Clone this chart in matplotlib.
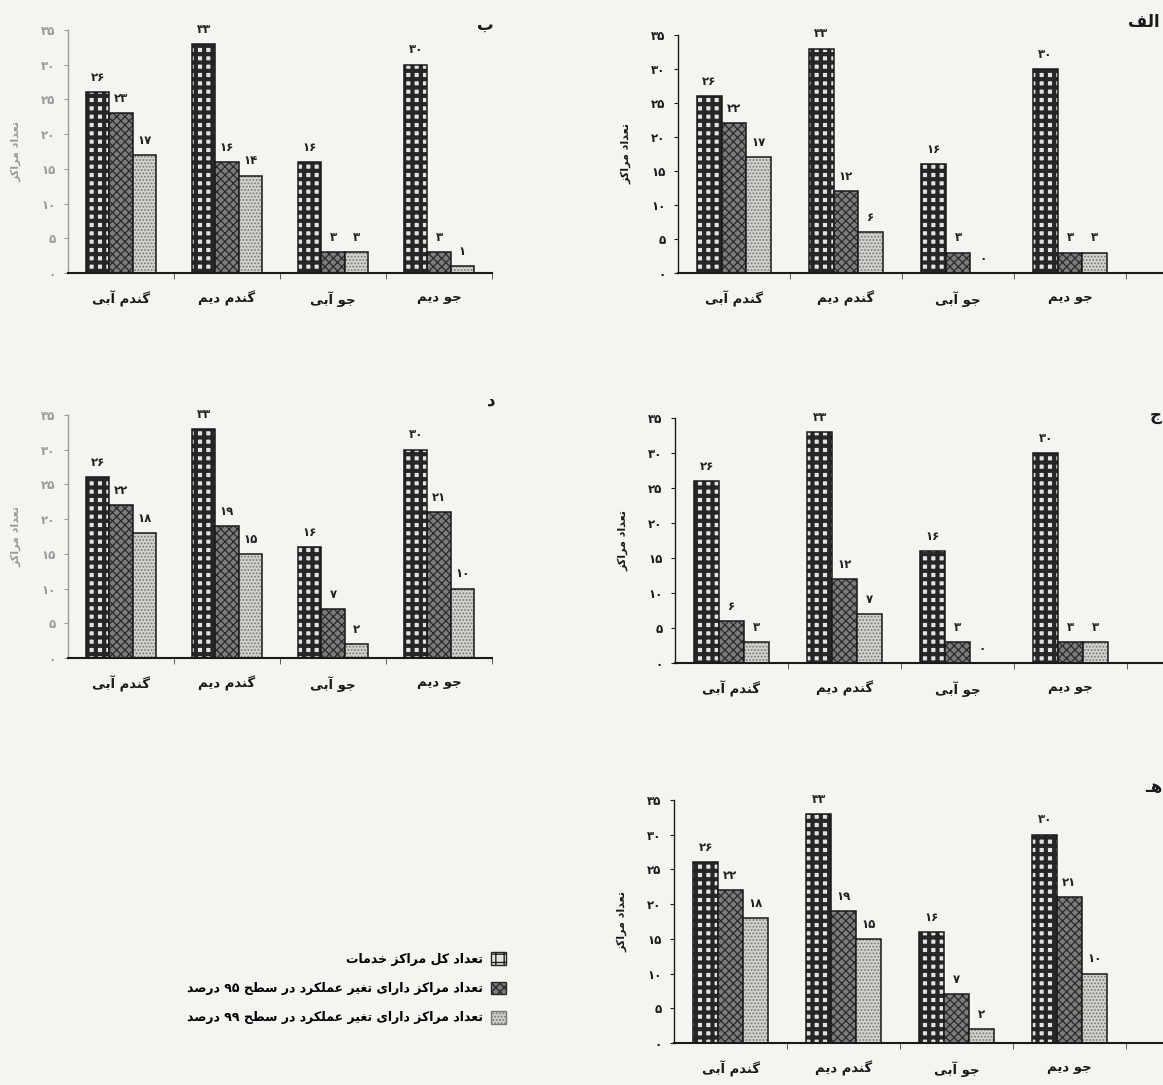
import re
import numpy as np
import matplotlib as mpl
mpl.use('Agg')
from matplotlib import pyplot as plt
from matplotlib.patches import Patch

# دسته‌ها و سری‌ها
categories = ['گندم آبی', 'گندم دیم', 'جو آبی', 'جو دیم']
series_labels = ['تعداد کل مراکز خدمات',
                 'تعداد مراکز دارای تغیر عملکرد در سطح ۹۵ درصد',
                 'تعداد مراکز دارای تغیر عملکرد در سطح ۹۹ درصد']
y_ticks = [0, 5, 10, 15, 20, 25, 30, 35]

alef_total = [26, 33, 16, 30]
alef_95 = [22, 12, 3, 3]
alef_99 = [17, 6, 0, 3]

be_total = [26, 33, 16, 30]
be_95 = [23, 16, 3, 3]
be_99 = [17, 14, 3, 1]

jim_total = [26, 33, 16, 30]
jim_95 = [6, 12, 3, 3]
jim_99 = [3, 7, 0, 3]

dal_total = [26, 33, 16, 30]
dal_95 = [22, 19, 7, 21]
dal_99 = [18, 15, 2, 10]

he_total = [26, 33, 16, 30]
he_95 = [22, 19, 7, 21]
he_99 = [18, 15, 2, 10]

# شکل‌های اتصال حروف (تنها، پایانی، آغازی، میانی)
FORMS = {
    'ا': ('\uFE8D', '\uFE8E', None, None),
    'آ': ('\uFE81', '\uFE82', None, None),
    'ب': ('\uFE8F', '\uFE90', '\uFE91', '\uFE92'),
    'ت': ('\uFE95', '\uFE96', '\uFE97', '\uFE98'),
    'ج': ('\uFE9D', '\uFE9E', '\uFE9F', '\uFEA0'),
    'ح': ('\uFEA1', '\uFEA2', '\uFEA3', '\uFEA4'),
    'خ': ('\uFEA5', '\uFEA6', '\uFEA7', '\uFEA8'),
    'د': ('\uFEA9', '\uFEAA', None, None),
    'ر': ('\uFEAD', '\uFEAE', None, None),
    'ز': ('\uFEAF', '\uFEB0', None, None),
    'س': ('\uFEB1', '\uFEB2', '\uFEB3', '\uFEB4'),
    'ص': ('\uFEB9', '\uFEBA', '\uFEBB', '\uFEBC'),
    'ط': ('\uFEC1', '\uFEC2', '\uFEC3', '\uFEC4'),
    'ع': ('\uFEC9', '\uFECA', '\uFECB', '\uFECC'),
    'غ': ('\uFECD', '\uFECE', '\uFECF', '\uFED0'),
    'ف': ('\uFED1', '\uFED2', '\uFED3', '\uFED4'),
    'ل': ('\uFEDD', '\uFEDE', '\uFEDF', '\uFEE0'),
    'م': ('\uFEE1', '\uFEE2', '\uFEE3', '\uFEE4'),
    'ن': ('\uFEE5', '\uFEE6', '\uFEE7', '\uFEE8'),
    'ه': ('\uFEE9', '\uFEEA', '\uFEEB', '\uFEEC'),
    'و': ('\uFEED', '\uFEEE', None, None),
    '\u06A9': ('\uFB8E', '\uFB8F', '\uFB90', '\uFB91'),
    '\u06AF': ('\uFB92', '\uFB93', '\uFB94', '\uFB95'),
    '\u06CC': ('\uFBFC', '\uFBFD', '\uFBFE', '\uFBFF'),
    '\u0640': ('\u0640', '\u0640', '\u0640', '\u0640'),
}


def fa(text):
    """Join Persian letters and reverse for left-to-right drawing."""
    text = str(text).replace('\u0643', '\u06A9').replace('\u064A', '\u06CC')
    text = text.translate(str.maketrans('0123456789', '۰۱۲۳۴۵۶۷۸۹'))
    out = []
    for i, ch in enumerate(text):
        if ch not in FORMS:
            out.append(ch)
            continue
        prev = text[i - 1] if i > 0 else ''
        nxt = text[i + 1] if i + 1 < len(text) else ''
        f = FORMS[ch]
        join_prev = prev in FORMS and FORMS[prev][2] is not None
        join_next = f[2] is not None and nxt in FORMS
        if join_prev and join_next:
            out.append(f[3])
        elif join_prev:
            out.append(f[1])
        elif join_next:
            out.append(f[2])
        else:
            out.append(f[0])
    s = ''.join(out)[::-1]
    return re.sub('[۰-۹]+', lambda m: m.group()[::-1], s)


W, H = 1163, 1085
fig = plt.figure(figsize=(W / 100, H / 100), dpi=100, facecolor='#f4f4f1')
plt.rcParams['font.family'] = 'DejaVu Sans'

# سبک سری‌ها: رنگ زمینه، رنگ هاشور، الگو، ضخامت هاشور
styles = [
    ('#e2e2de', '#262626', '++', 3.0),
    ('#7c7c7c', '#2a2a2a', 'xxxx', 0.9),
    ('#d2d2ce', '#7a7a7a', '.....', 0.9),
]
width = 0.22


def panel(letter, total, s95, s99, x_axis, cat_px, y_zero, y_top, right_side):
    x_end = W if right_side else x_axis + 4 * cat_px
    ax = fig.add_axes([x_axis / W, 1 - y_zero / H,
                       (x_end - x_axis) / W, (y_zero - y_top) / H])
    ax.set_facecolor('none')
    x = np.arange(len(categories))
    for k, vals in enumerate([total, s95, s99]):
        face, hcol, hatch, hlw = styles[k]
        with mpl.rc_context({'hatch.linewidth': hlw}):
            ax.bar(x + (k - 1) * width, vals, width, color=face,
                   edgecolor=hcol, hatch=hatch, linewidth=0)
        bars = ax.bar(x + (k - 1) * width, vals, width, fill=False,
                      edgecolor='#1a1a1a', linewidth=1.1)
        ax.bar_label(bars, labels=[fa(v) for v in vals], padding=6,
                     fontsize=8.5, fontweight='bold', color='#222')
    ax.set_xlim(-0.5, -0.5 + (x_end - x_axis) / cat_px)
    ax.set_ylim(0, 35)
    tick_col = '#1a1a1a' if right_side else '#9a9a9a'
    ax.set_yticks(y_ticks)
    ax.set_yticklabels([fa(t) for t in y_ticks], fontsize=8.5,
                       fontweight='bold', color=tick_col)
    ax.set_xticks(x)
    ax.set_xticklabels([fa(c) for c in categories], fontsize=9.5,
                       fontweight='bold', color='#1a1a1a')
    ax.set_xticks(np.arange(0.5, 3.6, 1), minor=True)
    ax.tick_params(axis='x', which='major', length=0, pad=13)
    ax.tick_params(axis='x', which='minor', length=4, direction='out',
                   color='#444')
    ax.tick_params(axis='y', length=3, direction='out', color=tick_col, pad=6)
    for side in ('top', 'right'):
        ax.spines[side].set_visible(False)
    ax.spines['left'].set_color(tick_col)
    ax.spines['left'].set_linewidth(1.0)
    ax.spines['bottom'].set_linewidth(1.5)
    ax.spines['bottom'].set_color('#1a1a1a')
    ax.set_ylabel(fa('تعداد مراکز'), fontsize=8, fontweight='bold',
                  color=tick_col, labelpad=14)
    return ax


panel('الف', alef_total, alef_95, alef_99, 678, 112, 273, 35, True)
panel('ب', be_total, be_95, be_99, 68, 106, 273, 30, False)
panel('ج', jim_total, jim_95, jim_99, 675, 113, 663, 418, True)
panel('د', dal_total, dal_95, dal_99, 68, 106, 658, 415, False)
panel('هـ', he_total, he_95, he_99, 674, 113, 1043, 800, True)

# حروف شماره شکل‌ها
for letter, px, py in [('الف', 1160, 22), ('ب', 494, 25), ('ج', 1162, 415),
                       ('د', 496, 400), ('هـ', 1162, 787)]:
    fig.text(px / W, 1 - py / H, fa(letter), ha='right', va='center',
             fontsize=12, fontweight='bold', color='#1a1a1a')

handles = [Patch(facecolor=f, edgecolor=h, hatch=p) for f, h, p, _ in styles]
fig.legend(handles, [fa(s) for s in series_labels], loc='upper right',
           bbox_to_anchor=(517 / W, 1 - 941 / H), frameon=False,
           markerfirst=False, prop={'weight': 'bold', 'size': 9},
           handlelength=1.2, handleheight=1.2, labelspacing=1.25,
           handletextpad=0.6)

fig.savefig('out.png', dpi=100, facecolor=fig.get_facecolor())
